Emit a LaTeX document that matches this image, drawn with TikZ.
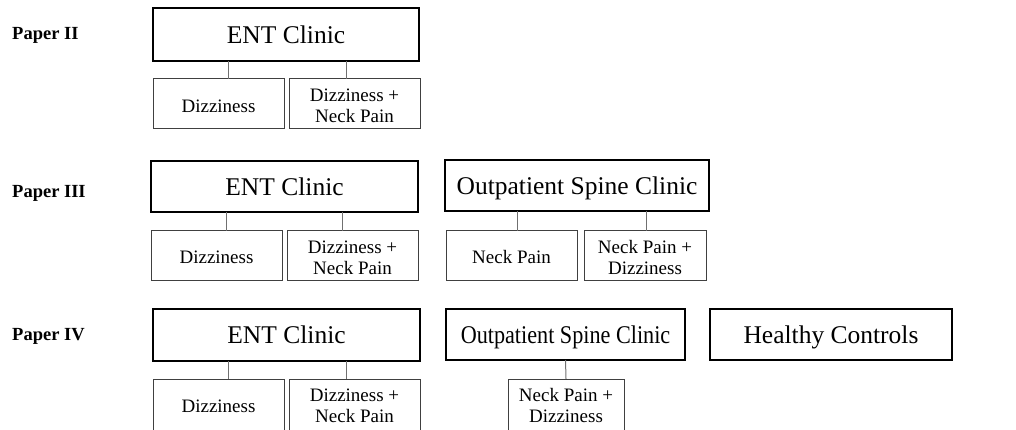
\documentclass[tikz,border=0pt]{standalone}
\usepackage{fontspec}
\setmainfont{Liberation Serif}
\usetikzlibrary{calc}
\definecolor{boxgray}{HTML}{404040}
\definecolor{linegray}{HTML}{707070}
\begin{document}
\begin{tikzpicture}[x=1pt,y=-1pt,
  clinic/.style={draw=black, line width=1.8pt, inner sep=0pt, outer sep=0pt, text depth=0pt,
    font=\fontsize{25.5}{30}\selectfont},
  sub/.style={draw=boxgray, line width=1pt, inner sep=0pt, outer sep=0pt, align=center,
    font=\fontsize{19}{21}\selectfont},
  subtext/.style={inner sep=0pt, align=center, font=\fontsize{19}{21}\selectfont},
  paper/.style={anchor=west, inner sep=0pt, font=\fontsize{18.5}{22}\selectfont\bfseries},
  conn/.style={draw=linegray, line width=1pt}]
\useasboundingbox (0,0) rectangle (1016,430);
\clip (0,0) rectangle (1016,430);

% ---- Paper II ----
\node[paper] (p2) at (12,35.5) {Paper II};
\node[clinic, minimum width=266pt, minimum height=53pt] (ent1) at (286,34.5) {ENT Clinic};
\node[sub, minimum width=131pt, minimum height=50pt] (d1) at (218.5,104) {};
\node[sub, minimum width=131pt, minimum height=50pt] (dn1) at (354.5,104) {};
\node[subtext] (d1t) at (218.5,106) {Dizziness};
\node[subtext] (dn1t) at (354.5,106) {Dizziness +\\Neck Pain};
\coordinate (e1a) at ($(ent1.south west)!0.282!(ent1.south east)$);
\coordinate (e1b) at ($(ent1.south west)!0.7256!(ent1.south east)$);
\draw[conn] (e1a) -- (e1a |- d1.north);
\draw[conn] (e1b) -- (e1b |- dn1.north);

% ---- Paper III ----
\node[paper] (p3) at (12,193.5) {Paper III};
\node[clinic, minimum width=267pt, minimum height=51pt] (ent2) at (284.5,186.5) {ENT Clinic};
\node[sub, minimum width=131pt, minimum height=49pt] (d2) at (216.5,255.5) {};
\node[sub, minimum width=131pt, minimum height=49pt] (dn2) at (352.5,255.5) {};
\node[subtext] (d2t) at (216.5,257.5) {Dizziness};
\node[subtext] (dn2t) at (352.5,257.5) {Dizziness +\\Neck Pain};
\coordinate (e2a) at ($(ent2.south west)!0.281!(ent2.south east)$);
\coordinate (e2b) at ($(ent2.south west)!0.719!(ent2.south east)$);
\draw[conn] (e2a) -- (e2a |- d2.north);
\draw[conn] (e2b) -- (e2b |- dn2.north);

\node[clinic, minimum width=264pt, minimum height=51pt] (osc2) at (577,185.5) {Outpatient Spine Clinic};
\node[sub, minimum width=131pt, minimum height=49pt] (np2) at (511.5,255.5) {};
\node[sub, minimum width=122pt, minimum height=49pt] (npd2) at (645,255.5) {};
\node[subtext] (np2t) at (511.5,257.5) {Neck Pain};
\node[subtext] (npd2t) at (645,257.5) {Neck Pain +\\Dizziness};
\coordinate (o2a) at ($(osc2.south west)!0.273!(osc2.south east)$);
\coordinate (o2b) at ($(osc2.south west)!0.765!(osc2.south east)$);
\draw[conn] (o2a) -- (o2a |- np2.north);
\draw[conn] (o2b) -- (o2b |- npd2.north);

% ---- Paper IV ----
\node[paper] (p4) at (12,336) {Paper IV};
\node[clinic, minimum width=267pt, minimum height=52pt] (ent3) at (286.5,335) {ENT Clinic};
\node[sub, minimum width=131pt, minimum height=61pt] (d3) at (218.5,409.5) {};
\node[sub, minimum width=131pt, minimum height=61pt] (dn3) at (354.5,409.5) {};
\node[subtext] (d3t) at (218.5,406.5) {Dizziness};
\node[subtext] (dn3t) at (354.5,405.5) {Dizziness +\\Neck Pain};
\coordinate (e3a) at ($(ent3.south west)!0.281!(ent3.south east)$);
\coordinate (e3b) at ($(ent3.south west)!0.723!(ent3.south east)$);
\draw[conn] (e3a) -- (e3a |- d3.north);
\draw[conn] (e3b) -- (e3b |- dn3.north);

\node[clinic, minimum width=239pt, minimum height=51pt] (osc3) at (565.5,334.5)
  {\scalebox{0.87}[1]{Outpatient Spine Clinic}};
\node[sub, minimum width=116pt, minimum height=61pt] (npd3) at (566,409.5) {};
\node[subtext] (npd3t) at (566,405.5) {Neck Pain +\\Dizziness};
\draw[conn] (osc3.south) -- (npd3.north);

\node[clinic, minimum width=242pt, minimum height=51pt] (hc) at (831,334.5) {Healthy Controls};
\end{tikzpicture}
\end{document}
